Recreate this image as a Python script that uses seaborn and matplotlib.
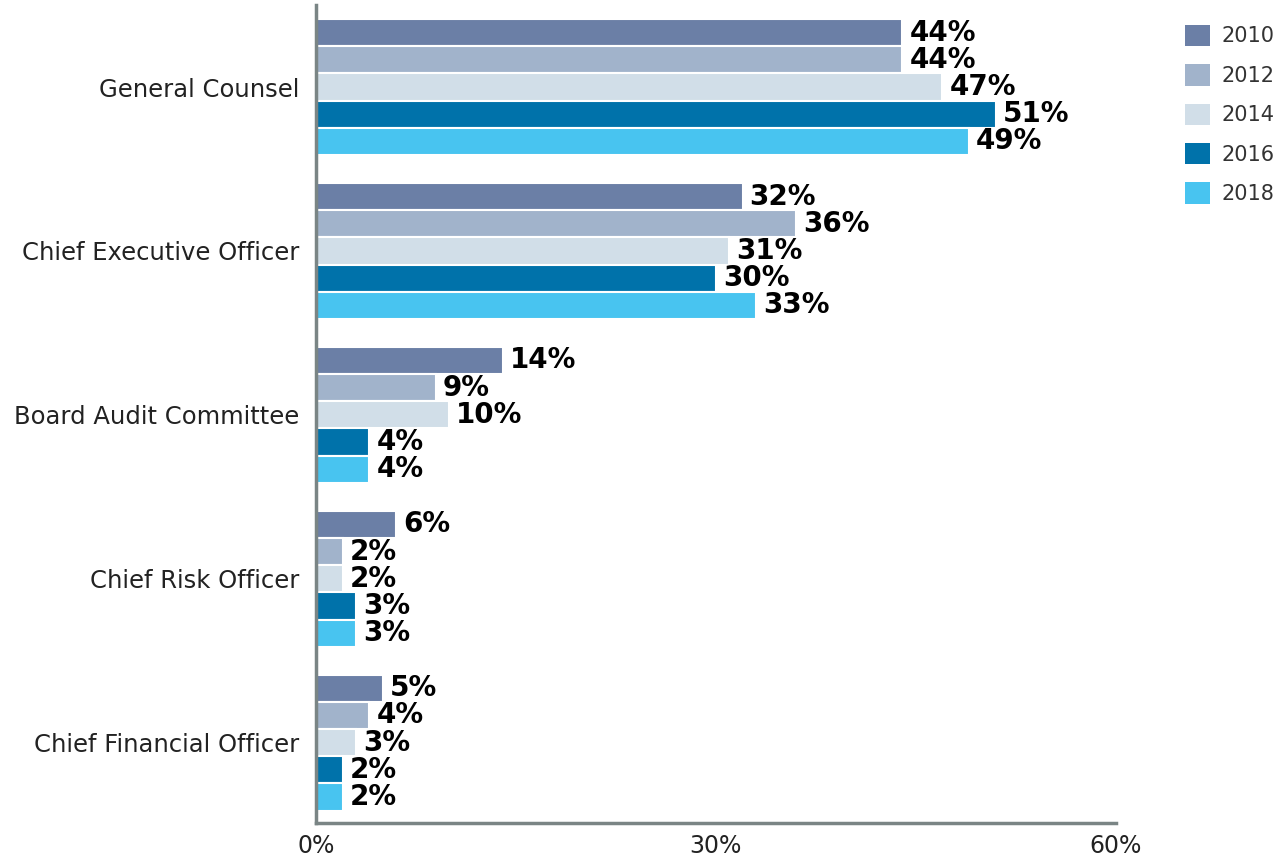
import pandas as pd
import numpy as np
import matplotlib
matplotlib.use('Agg')
import matplotlib.pyplot as plt
import seaborn as sns
from matplotlib.patches import Patch

# data
roles = ['General Counsel', 'Chief Executive Officer', 'Board Audit Committee',
         'Chief Risk Officer', 'Chief Financial Officer']
years = ['2010', '2012', '2014', '2016', '2018']
v2010 = [44, 32, 14, 6, 5]
v2012 = [44, 36, 9, 2, 4]
v2014 = [47, 31, 10, 2, 3]
v2016 = [51, 30, 4, 3, 2]
v2018 = [49, 33, 4, 3, 2]
colors = ['#6B7FA6', '#A1B3CB', '#D1DEE8', '#0072AA', '#48C4F0']

rows = []
for yr, vals in zip(years, [v2010, v2012, v2014, v2016, v2018]):
    for r, v in zip(roles, vals):
        rows.append({'role': r, 'year': yr, 'value': v})
df = pd.DataFrame(rows)

sns.set_style('white')
plt.rcParams['font.family'] = ['DejaVu Sans']

fig = plt.figure(figsize=(12.78, 8.56), dpi=100)
ax = fig.add_axes([0.2473, 0.0386, 0.873 - 0.2473, 0.994 - 0.0386])

sns.barplot(data=df, y='role', x='value', hue='year', order=roles, hue_order=years,
            palette=colors, orient='h', width=0.83, edgecolor='white', linewidth=1.5,
            saturation=1, legend=False, ax=ax)

for c in ax.containers:
    ax.bar_label(c, fmt='%d%%', padding=5, fontsize=20, fontweight='bold',
                 family='DejaVu Sans', color='black')

ax.set_xlim(0, 60)
ax.set_ylim(4.49, -0.5)
ax.set_xticks([0, 30, 60])
ax.set_xticklabels(['0%', '30%', '60%'], fontsize=17, color='#222222')
ax.tick_params(axis='x', length=0, pad=8)
ax.tick_params(axis='y', length=0, pad=12, labelsize=17.5, labelcolor='#222222')
ax.set_xlabel('')
ax.set_ylabel('')
for s in ['top', 'right']:
    ax.spines[s].set_visible(False)
for s in ['left', 'bottom']:
    ax.spines[s].set_color('#7A8585')
    ax.spines[s].set_linewidth(2.5)

handles = [Patch(facecolor=c, edgecolor='none', label=y) for c, y in zip(colors, years)]
fig.legend(handles=handles, loc='upper left', bbox_to_anchor=(1166 / 1278, 1 - 6 / 856),
           frameon=False, fontsize=15, handlelength=1.2, handleheight=1.2,
           labelspacing=0.85, handletextpad=0.55, labelcolor='#333333')

fig.savefig('out.png', dpi=100)
